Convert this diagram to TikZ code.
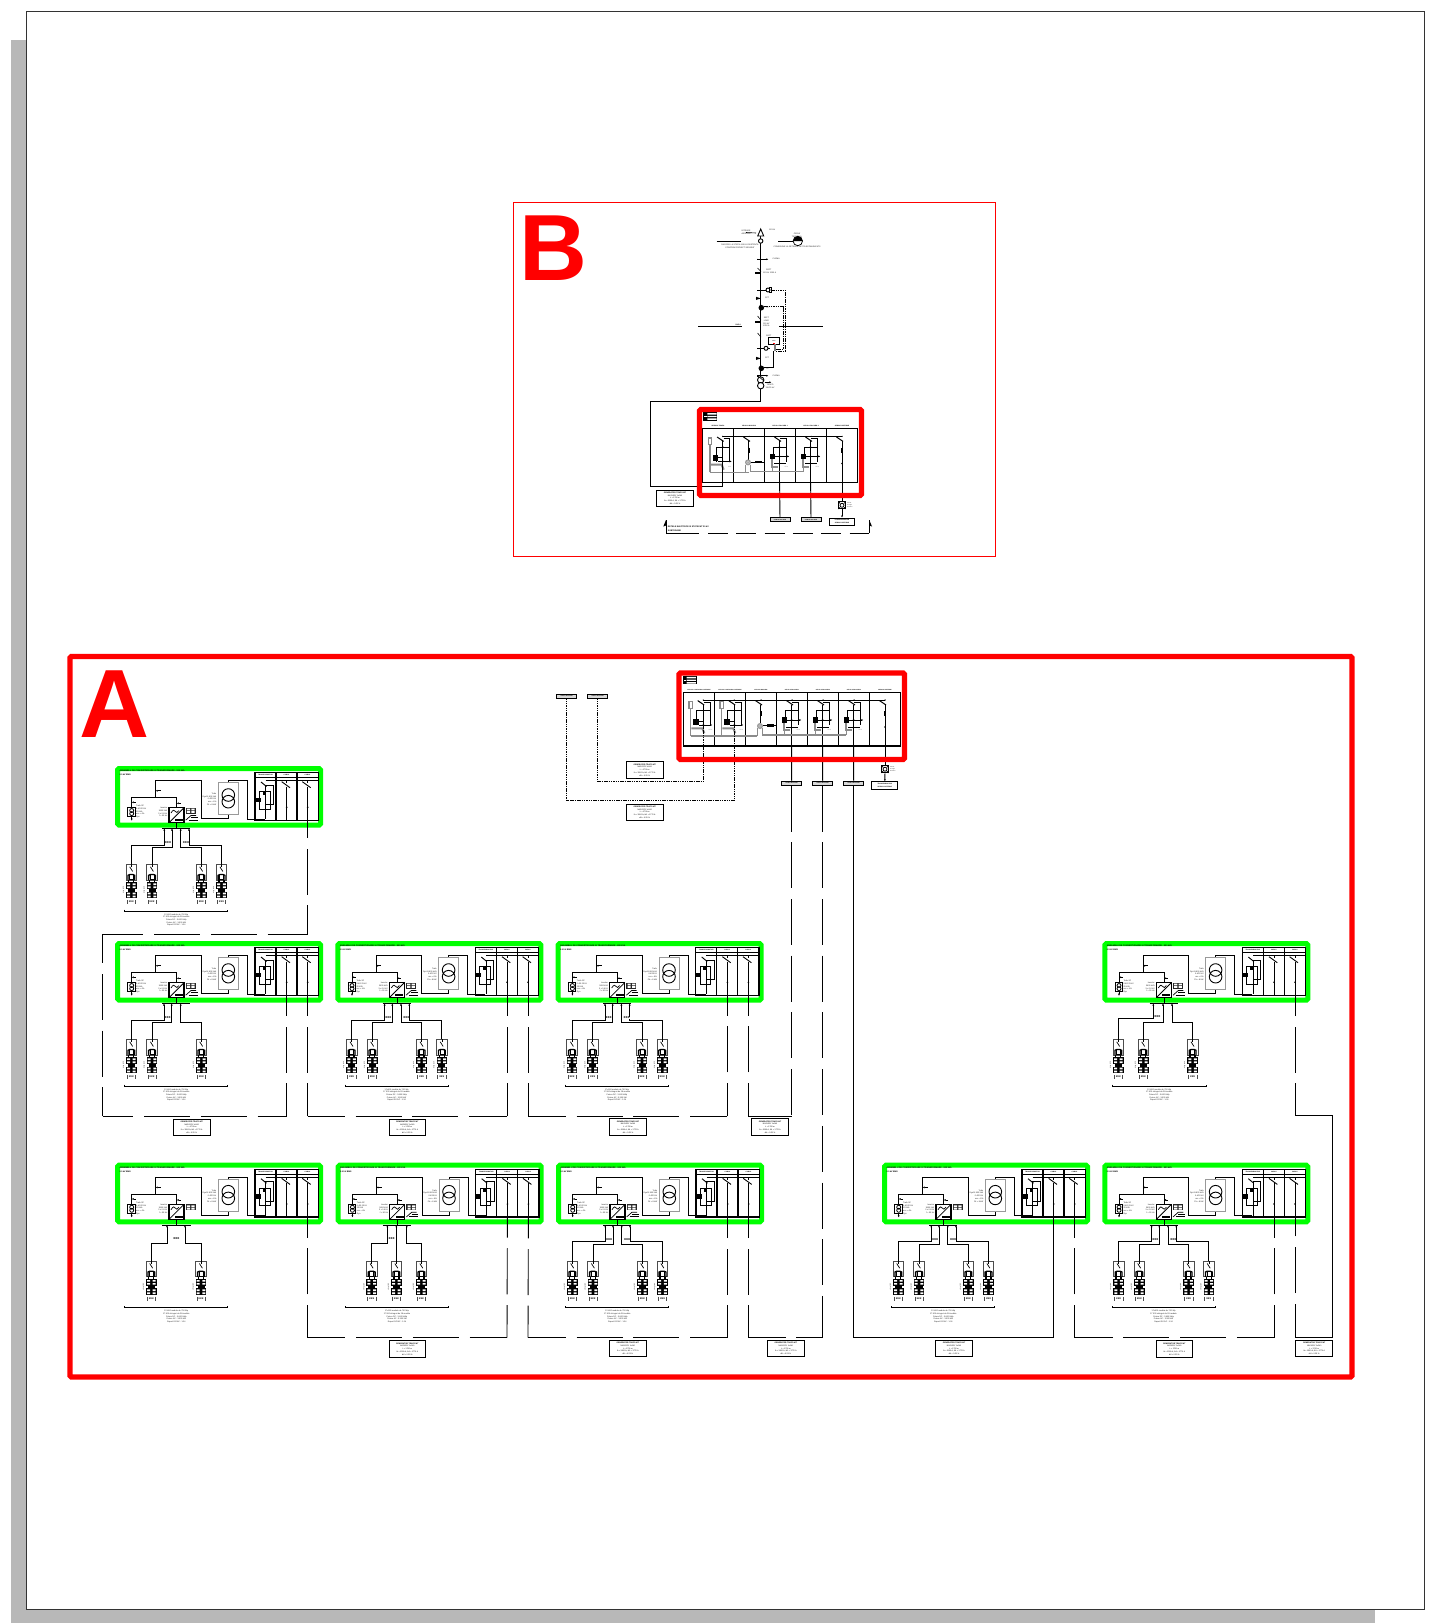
\documentclass[tikz,border=0pt]{standalone}
\usepackage{fontspec}
\setmainfont{Liberation Sans}
\usetikzlibrary{arrows.meta}
\definecolor{gr}{RGB}{0,255,0}
\definecolor{rd}{RGB}{255,0,0}
\definecolor{shd}{RGB}{184,184,184}
\newcounter{tc}
\tikzset{
 wire/.style={line width=.9pt,black},
 thinw/.style={line width=.6pt,black},
 heavy/.style={line width=1.3pt,black},
 graywire/.style={line width=1.1pt,black!45},
 dense/.style={line width=.9pt,black,dash pattern=on 1.5pt off .8pt},
 greenbox/.style={draw=gr,line width=5pt,rounded corners=1.5pt},
 redbox/.style={draw=rd,line width=5.4pt,rounded corners=1.5pt},
 tx/.style={font=\fontsize{2}{2.7}\selectfont,inner sep=0pt,align=center,text=black!85},
 tb/.style={font=\fontsize{2.1}{2.7}\selectfont\bfseries,inner sep=0pt,align=left,text=black},
 lblbox/.style={draw=black,line width=.9pt,fill=white,inner sep=0pt,minimum width=36.6pt,minimum height=16.4pt,align=center,font=\fontsize{1.9}{2.8}\selectfont},
 smbox/.style={draw=black,line width=.8pt,fill=black!15,inner sep=0pt,minimum width=20pt,minimum height=3.8pt,font=\fontsize{1.5}{1.8}\selectfont\bfseries},
 tbox/.style={draw=black,line width=.9pt,fill=white,inner sep=0pt,minimum width=26pt,minimum height=7.4pt,align=center,font=\fontsize{1.6}{2.2}\selectfont\bfseries},
 tip/.style={-{Latex[length=2pt,width=2pt]}},
 rtip/.style={{Latex[length=2pt,width=2pt]}-},
}
\newcommand\tn[4][]{\stepcounter{tc}\node[tx,#1] (t\arabic{tc}) at (#2,#3) {#4};}
\newcommand\tnb[4][]{\stepcounter{tc}\node[tb,#1] (t\arabic{tc}) at (#2,#3) {#4};}
% dashed segment: first dash has length #1 counted from (#2)
\newcommand\dseg[3]{\pgfmathsetmacro\dsph{46-#1}\draw[wire,dash pattern=on 46pt off 10.7pt,dash phase=\dsph pt] (#2) -- (#3);}
\newcommand\boxtext{\textbf{GENERATOR TRAFO MT}\\NA2XS2Y 1x240\\L = 1700 m\\Ik = 1500 A; Ik1 = 1770 A\\dU = 0.25 \%}
\newcommand\lbox[3]{\node[lblbox] (#1) at (#2,#3) {\boxtext};}
% one string of PV modules. name, drop x, bend y, string x
\newcommand\strg[4]{%
 \coordinate (#1a) at (#2,62.5);\coordinate (#1b) at (#2,#3);\coordinate (#1c) at (#4,#3);\coordinate (#1d) at (#4,98.3);
 \draw[wire,rtip] (#1a) -- (#1b) -- (#1c) -- (#1d);
 \begin{scope}[shift={(#4,98.3)}]
  \draw[line width=.7pt,black!70] (-5.3,0) rectangle (5.3,15.7);
  \draw[line width=.7pt] (-1.6,2.5) -- (1.4,7.2);
  \draw[line width=.6pt] (0,0) -- (0,2.5);
  \draw[line width=1.3pt] (-3.4,15.9) -- (-3.4,11) -- (-1.5,10.2) -- (1.5,10.2) -- (3.4,11) -- (3.4,15.9);
  \draw[line width=.6pt] (-2,10.2) rectangle (2,15);
  \draw[line width=1.3pt] (-2.5,15.7) -- (-2.5,18) (2.5,15.7) -- (2.5,18);
  \fill[black] (-3.5,24.7) rectangle (3.5,27.3);
  \foreach \yy in {18,27.3}{
   \fill[black] (-5.3,\yy) rectangle (5.3,\yy+6.7);
   \fill[white] (-4.3,\yy+1) rectangle (-1.3,\yy+2.7) (1.3,\yy+1) rectangle (4.3,\yy+2.7)
                (-4.3,\yy+4) rectangle (-1.3,\yy+5.7) (1.3,\yy+4) rectangle (4.3,\yy+5.7);
  }
  \draw[line width=.5pt,black!70] (-4.2,35.5) -- (-4.2,39.5) (4.2,35.5) -- (4.2,39.5);
  \tnb[anchor=center,font=\fontsize{3}{3}\selectfont\bfseries]{0}{37.8}{xxx}
  \tn[rotate=90,font=\fontsize{1.5}{1.8}\selectfont]{-7.8}{26}{string 1x28}
 \end{scope}}
\newcommand\dcl[2]{\tnb[anchor=center,font=\fontsize{3.6}{3.6}\selectfont\bfseries,fill=white]{#1}{#2}{xxx}}
\newcommand\dcbus[2]{\draw[line width=.9pt] (#1,62.5) -- (#2,62.5);}
\newcommand\bracket[3]{%
 \draw[line width=.7pt] (#1,143.6) -- (#1,145) -- (#2,145) -- (#2,143.6);
 \tn{#3}{154}{17x500 module de 700 Wp\\17 500 stringuri de 28 module\\Putere DC : 3.600 kWp\\Putere AC : 3.500 kW\\Raport DC/AC : 1.24}}
% inverter/transformer block. name, x, y, lower display(0/1), strings
\newcommand\invblock[5]{%
\begin{scope}[shift={(#2,#3)}]
 \draw[greenbox] (2.5,2.5) rectangle (205.5,59.2);
 \tnb[anchor=west]{4.3}{5}{ANSAMBLU DE CONVERTIZOARE SI TRANSFORMARE - 800 kVA}
 \tnb[anchor=west]{4.3}{8.7}{0.5 kV BMS}
 % LV wiring
 \draw[wire] (113.3,16.3) -- (113.3,14.7) -- (132.3,14.7) -- (132.3,53) -- (150,53);
 \draw[wire] (113.3,48.3) -- (113.3,52.3) -- (86.3,52.3) -- (86.3,14.7) -- (40.7,14.7) -- (40.7,31.3);
 \draw[wire] (16.7,41.3) -- (16.7,31.3) -- (61.7,31.3) -- (61.7,41.7);
 \draw[wire,tip] (16.7,50.7) -- (16.7,54.7);
 \draw[thinw,rtip] (40.7,24.7) -- (46,24.7);
 \draw[thinw,rtip] (16.7,36.3) -- (21,36.3);
 \draw[thinw,rtip] (61.7,37.3) -- (66,37.3);
 % transformer
 \draw[line width=1pt,black!40,fill=white] (103.3,16.3) rectangle (123.3,48.3);
 \draw[wire] (113.3,29) circle (6.3) (113.3,35.7) circle (6.3);
 \tn[align=right,anchor=east]{101.5}{33.2}{Trafo\\Dyn11 800 kVA\\0.4/20 kV\\ucc = 6\%\\Pk = 8 kW}
 % aux unit
 \draw[line width=.7pt,fill=white] (12.7,41.3) rectangle (20,50.7);
 \draw[line width=.8pt] (16.7,44.5) circle (2) (16.7,47.6) circle (2);
 \tn[align=left,anchor=west]{21}{45.5}{Trafo SP\\0.4/0.23 kV\\25 kVA\\ucc = 4\%\\Dyn}
 % inverter
 \tn[align=right,anchor=east]{52.5}{46}{Invertor\\3600 kVA\\3 x 0.6 kV\\f = 50 Hz}
 \draw[line width=1.2pt,fill=white] (54,41.7) rectangle (69,56.7);
 \draw[line width=.8pt] (54,56.7) -- (69,41.7);
 \draw[line width=.7pt] (56,47) .. controls (58,43.5) and (59.5,43.5) .. (60.5,45.5) .. controls (61.2,47) and (62.5,47) .. (64,44.5);
 \fill (60,53) rectangle (68,55.3);
 \draw[wire] (61.7,56.7) -- (61.7,62.5);
 % displays
 \fill[black!85] (70.7,41.7) rectangle (80.7,47.7);
 \fill[white] (71.8,42.6) rectangle (75,44.3) (76.4,42.6) rectangle (79.6,44.3) (71.8,45.2) rectangle (75,46.9) (76.4,45.2) rectangle (79.6,46.9);
 \ifnum#4=1
  \draw[line width=.7pt] (70.7,54.2) -- (76,49.5) -- (81,49.5);
  \draw[line width=.9pt] (73.5,54.2) -- (82.7,54.2) (76,51.7) -- (82.7,51.7);
 \fi
 % panel
 \draw[heavy] (140,6.7) rectangle (203.3,54.3);
 \draw[heavy] (161,6.7) -- (161,54.3) (182,6.7) -- (182,54.3);
 \draw[wire] (140,11.3) -- (203.3,11.3);
 \tnb[anchor=center,font=\fontsize{1.6}{2}\selectfont\bfseries]{150.5}{9.1}{TRANSFORMATOR}
 \tnb[anchor=center,font=\fontsize{1.6}{2}\selectfont\bfseries]{171.5}{9.1}{CABLU}
 \tnb[anchor=center,font=\fontsize{1.6}{2}\selectfont\bfseries]{192.5}{9.1}{CABLU}
 \draw[thinw] (150.7,14.7) -- (203.3,14.7);
 \draw[wire] (146,16) -- (151.5,20.5);
 \draw[thinw] (150.7,20.7) -- (150.7,53);
 \draw[thinw] (144.3,25.7) rectangle (155,43);
 \draw[thinw] (150.7,19) rectangle (158.3,38.3);
 \fill (140.7,31.7) rectangle (145.7,36.3);
 \fill (147.5,25.7) rectangle (150.7,29);
 \draw[wire] (166.7,15.7) -- (175,21.7);
 \draw[wire] (187.3,15.7) -- (195.7,21.7);
 \coordinate (#1c2) at (171.7,54.3);
 \coordinate (#1c3) at (192.7,54.3);
 \draw[thinw] (171.7,14.7) -- (171.7,17) (171.7,20.5) -- (#1c2);
 \draw[thinw] (192.7,14.7) -- (192.7,17) (192.7,20.5) -- (#1c3);
 \fill (171.7,41.3) circle (.9) (192.7,41.3) circle (.9);
 #5
\end{scope}}
% switchgear panel columns: name, column left x, panel top y
\newcommand\swtch[1]{\draw[line width=1pt] (#1-5.6,8.3) -- (#1+.9,12.7);\fill (#1,7.7) circle (.7);}
\newcommand\colA[3]{%
\begin{scope}[shift={(#2,#3)}]
 \draw[graywire,fill=white] (5.7,9.3) rectangle (9,16);
 \draw[graywire] (7.3,16) -- (7.3,43.7);
 \draw[line width=2pt,black!45] (8,36) -- (19,36) -- (21,41);
 \swtch{20}
 \draw[thinw] (13.3,33) -- (13.3,18.3) -- (26.7,18.3) -- (26.7,33);
 \draw[thinw] (21,10) -- (26.7,10) -- (26.7,18.3);
 \draw[wire,tip] (15.7,32.7) -- (29,32.7);
 \fill (10,26.7) rectangle (15.7,32.3);
 \draw[line width=.5pt] (15.7,29) -- (20,29);
 \fill (20,18.3) circle (.9) (20,32.7) circle (1);
 \coordinate (#1) at (20,36);
 \draw[thinw] (20,12.7) -- (20,36);
 \tn[text=black!40]{27}{38}{mm}
\end{scope}}
\newcommand\colM[3]{%
\begin{scope}[shift={(#2,#3)}]
 \swtch{15.8}
 \draw[thinw] (15.3,12.7) -- (15.3,31);
 \draw[line width=2pt] (15.3,19) -- (15.3,24);
 \fill[black!40] (14.7,33.7) circle (3);
 \draw[line width=.8pt,black!25] (14.7,33.7) circle (1.4);
 \draw[line width=2.5pt] (22,33.3) -- (29,33.3);
 \draw[thinw] (18,33.3) -- (31,33.3);
 \draw[graywire] (12,36) -- (12,43.7) (17.3,36) -- (17.3,43.7);
 \coordinate (#1) at (15.3,33);
\end{scope}}
\newcommand\colF[3]{%
\begin{scope}[shift={(#2,#3)}]
 \swtch{15.8}
 \coordinate (#1) at (15.3,53.7);
 \draw[thinw] (15.3,12.7) -- (#1);
 \draw[thinw] (8.7,27) -- (8.7,18.3) -- (22,18.3) -- (22,33);
 \draw[thinw] (16,10) -- (22,10) -- (22,18.3);
 \draw[wire,tip] (11,27.7) -- (25,27.7);
 \fill (5.7,25) rectangle (11,30.3);
 \fill (15.3,18.3) circle (.9) (15.3,27.7) circle (1);
 \draw[thinw] (10,34.5) -- (22,34.5);
 \draw[line width=2pt,black!45] (8,30.5) -- (8,38) -- (14,38);
 \draw[graywire] (8,38) -- (8,43);
 \tn[text=black!40]{22}{38}{mm}
\end{scope}}
\newcommand\colT[3]{%
\begin{scope}[shift={(#2,#3)}]
 \swtch{15.8}
 \coordinate (#1) at (15.7,53.7);
 \draw[thinw] (15.7,12.7) -- (#1);
 \draw[line width=2pt] (15.7,19) -- (15.7,24);
 \fill (15.7,34.7) circle (.9);
\end{scope}}
\newcommand\legendicon[2]{%
 \fill (#1,#2) rectangle (#1+14,#2+8.4);
 \fill[white] (#1+4,#2+.9) rectangle (#1+13.2,#2+2.3) (#1+4,#2+3.5) rectangle (#1+13.2,#2+4.9) (#1+4,#2+6) rectangle (#1+13.2,#2+7.5);
 \fill[white] (#1+.8,#2+3.5) rectangle (#1+3.2,#2+4.9);}
\newcommand\meterbox[4]{% name, x, y, text
 \node[draw=black,line width=.9pt,fill=white,inner sep=0pt,minimum size=7.2pt] (#1) at (#2,#3) {};
 \draw[line width=.8pt] (#2,#3) circle (2);
 \draw[line width=.8pt] (#2-3.6,#3-3.6) -- (#2-2,#3-2) (#2+3.6,#3-3.6) -- (#2+2,#3-2) (#2-3.6,#3+3.6) -- (#2-2,#3+2) (#2+3.6,#3+3.6) -- (#2+2,#3+2);
 \tn[align=left,anchor=west,font=\fontsize{1.4}{2}\selectfont]{#2+5}{#3}{#4}}
% four strings, common layout
\newcommand\fourstr[1]{%
 \dcbus{47.3}{75.3}
 \strg{#1s1}{49.3}{79}{16.3}\strg{#1s2}{57}{81.3}{37}\strg{#1s3}{65.7}{81.3}{86.3}\strg{#1s4}{74}{79}{106.5}
 \dcl{53}{76.7}\dcl{71}{76.7}
 \bracket{9.7}{112.7}{61.3}}
\begin{document}
\begin{tikzpicture}[x=1pt,y=-1pt]
\useasboundingbox (0,0) rectangle (1429,1623);
% sheet
\fill[white] (0,0) rectangle (1429,1623);
\fill[shd] (10.7,40) rectangle (1375,1623);
\draw[black!80,fill=white,line width=1pt] (26,11) rectangle (1424.5,1609);

% ================= B =================
\draw[rd,line width=1pt] (513.5,202) rectangle (995.5,556);
\node[anchor=base west,inner sep=0pt,text=rd,font=\fontsize{94}{94}\selectfont\bfseries] (labB) at (519.5,280.5) {B};

% high-voltage bay
\coordinate (hvtop) at (760.7,233);
\coordinate (hvbot) at (760.7,401.7);
\coordinate (hvl) at (650,401.7);
\coordinate (hvd) at (650,486.7);
\draw[heavy] (hvtop) -- (hvbot);
\draw[wire,fill=white] (757.7,236) -- (760.7,229) -- (763.7,236) -- cycle;
\draw[wire,fill=white] (760.7,241) circle (2.2);
\tn[anchor=west]{769}{229.5}{110 kV}
\tn{746}{232}{INTRARE\\AERIANA}
\draw[thinw] (746,232.5) -- (756,233);
\draw[wire] (716.7,241) -- (741,241);
\draw[wire] (778.3,241) -- (793.3,241);
\tn{740}{246.5}{RACORD LA STATIA 110 kV EXISTENTA\\CONFORM PROIECT SEPARAT}
\tn{797}{235}{OPGW\\TERMINAL}
\draw[line width=.7pt,fill=white] (797.8,241) circle (4.7);
\fill (793.1,241) arc (180:360:4.7) -- cycle;
\tn{797}{247}{CONEXIUNE LA RETEAUA DE TELECOMUNICATII}
\draw[wire,tip] (757.5,259.3) -- (768.3,259.3);
\draw[wire] (757.5,258.5) -- (757.5,260);
\tn[anchor=west]{772.5}{259.3}{CLEMA}
\draw[thinw] (757.5,268) -- (761,271.5);
\fill (755,271.5) rectangle (760.7,273.8);
\tn[anchor=west]{766}{269.5}{SEPT}
\tn[anchor=west]{763}{273}{110 kV 1250 A}
\draw[wire] (757,290) -- (766,290);
\draw[wire,fill=white] (768,290) circle (2);
\draw[line width=.8pt] (769,287.5) rectangle (771.5,292.5);
\coordinate (ct1) at (771,290);\coordinate (ct1a) at (785,290);\coordinate (ct1b) at (785,351);\coordinate (ct1c) at (775,351);
\draw[dense] (ct1) -- (ct1a) -- (ct1b) -- (ct1c);
\fill (756,296.8) -- (760.7,298.3) -- (756,300) -- cycle;
\draw[line width=1.2pt] (755.5,298.3) -- (760.7,298.3);
\tn[anchor=west]{765}{298.3}{SPT}
\fill (761.3,307.7) circle (2.8);
\coordinate (ct2) at (764,306.7);\coordinate (ct2a) at (783.3,306.7);\coordinate (ct2b) at (783.3,349.3);\coordinate (ct2c) at (776,349.3);
\draw[dense] (ct2) -- (ct2a) -- (ct2b) -- (ct2c);
\tn[anchor=west]{766}{308}{TC}
\draw[thinw] (757.5,316) -- (761,320);
\fill (755,321) rectangle (760.7,323);
\tn[anchor=west]{763}{322}{SEPT\\LINIE\\110 kV\\1250 A}
\draw[wire] (698.3,326.7) -- (741.7,326.7);
\draw[wire] (779.3,326.7) -- (822.7,326.7);
\tn[anchor=east,font=\fontsize{1.8}{2.2}\selectfont\bfseries]{741}{325.3}{BARA}
\draw[thinw] (757.5,333) -- (761,337);
\tn[anchor=west]{766}{336}{SEPT}
\draw[wire] (757,348.3) -- (764,348.3);
\draw[wire,fill=white] (766,348.3) circle (2);
\draw[wire] (768,348.3) -- (770,348.3);
\node[draw=black,line width=.9pt,fill=white,inner sep=0pt,minimum width=10.6pt,minimum height=6.7pt,font=\fontsize{1.4}{1.6}\selectfont] (relay) at (774,340.7) {RMS};
\fill[rd] (772.5,343) rectangle (775,344);
\draw[line width=1.4pt,black!50] (775,344) -- (775,351);
\fill (756,356.8) -- (760.7,358.3) -- (756,360) -- cycle;
\draw[line width=1.2pt] (755.5,358.3) -- (760.7,358.3);
\tn[anchor=west]{765}{358.3}{SPT}
\fill (761.3,368.3) circle (2.8);
\coordinate (ct3) at (764,367.3);\coordinate (ct3a) at (773.3,367.3);\coordinate (ct3b) at (773.3,350.7);
\draw[wire,line width=1pt] (ct3) -- (ct3a) -- (ct3b);
\tn[anchor=west]{766}{369}{TC}
\draw[wire,tip] (757.5,375.7) -- (768.3,375.7);
\draw[wire] (757.5,375) -- (757.5,376.5);
\tn[anchor=west]{772.5}{376}{CLEMA}
\draw[wire,fill=white] (760.7,380) circle (3.2);
\draw[wire,fill=white] (760.7,385.7) circle (3.2);
\draw[thinw] (758,376) -- (764,381);
\draw[wire,tip] (764.5,382.3) -- (771.3,382.3);
\tn{770}{386}{TRAFO\\110/20 kV}
% B panel
\legendicon{703.3}{412.3}
\draw[heavy] (702.3,428.7) rectangle (857.7,482.3);
\draw[heavy] (733.3,428.7) -- (733.3,482.3) (764.3,428.7) -- (764.3,482.3) (795.3,428.7) -- (795.3,482.3) (826.3,428.7) -- (826.3,482.3);
\draw[thinw] (722.7,436.4) -- (842,436.4);
\colA{bc1}{702.7}{428.7}
\colM{bc2}{733.3}{428.7}
\colF{bc3}{764.3}{428.7}
\colF{bc4}{795.3}{428.7}
\colT{bc5}{826.3}{428.7}
\draw[graywire] (709.6,472.4) -- (749,472.4);
\draw[graywire] (750.6,471.5) -- (804,471.5);
\tnb[anchor=center,font=\fontsize{1.6}{2}\selectfont\bfseries]{718}{426.2}{SERVICII TRAFO}
\tnb[anchor=center,font=\fontsize{1.6}{2}\selectfont\bfseries]{749}{426.2}{CELULA MASURA}
\tnb[anchor=center,font=\fontsize{1.6}{2}\selectfont\bfseries]{780}{426.2}{CELULA RACORD 1}
\tnb[anchor=center,font=\fontsize{1.6}{2}\selectfont\bfseries]{811}{426.2}{CELULA RACORD 2}
\tnb[anchor=center,font=\fontsize{1.6}{2}\selectfont\bfseries]{842}{426.2}{SERVICII INTERNE}
\node[smbox] (bf3) at (780,519.7) {CABLU RACORD};
\node[smbox] (bf4) at (811,519.7) {CABLU RACORD};
\node[tbox,minimum width=25.7pt,minimum height=7pt] (bf5) at (842,521.5) {TRANSFORMATOR\\SERVICII INTERNE};
\meterbox{bm5}{842}{505.3}{Contor\\energie\\electrica}
\draw[wire] (bc3) -- (bf3);
\draw[wire] (bc4) -- (bf4);
\draw[wire] (bc5) -- (bm5);
\draw[wire,tip] (bm5) -- (bf5);
\lbox{blb}{675}{498.3}
\draw[wire] (hvbot) -- (hvl) -- (hvd) -- (hvd-|bc1) -- (bc1);
\coordinate (bl1) at (666,533.3);\coordinate (bl2) at (869.3,533.3);\coordinate (bl0) at (666,520);\coordinate (bl3) at (869.3,520);
\draw[wire,dash pattern=on 33.3pt off 8.7pt on 20pt off 8.3pt on 20pt off 8.3pt on 20pt off 8.3pt on 20pt off 8.3pt on 20pt off 8.3pt on 20pt off 8.3pt] (bl1) -- (bl2);
\draw[wire] (bl0) -- (bl1);
\draw[wire] (bl3) -- (bl2);
\fill (666,520) -- (663.3,526.5) -- (666,525.5) -- cycle;
\fill (869.3,520) -- (872,526.5) -- (869.3,525.5) -- cycle;
\tnb[anchor=west]{667.7}{527}{RETELE ELECTRICE SI STATIE MT 20 kV}
\tnb[anchor=west]{667.7}{531}{SUBTERANE}
\draw[redbox] (699.5,409.5) rectangle (861.5,495.5);

% ================= A =================
\draw[rd,line width=5.4pt,rounded corners=1.5pt] (70,656.5) rectangle (1352,1377);
\node[anchor=base west,inner sep=0pt,text=rd,font=\fontsize{97}{97}\selectfont\bfseries] (labA) at (79.5,737) {A};

% top panel
\legendicon{682.7}{676}
\draw[heavy] (683.3,692.3) rectangle (900.7,746);
\draw[heavy] (714.3,692.3) -- (714.3,746) (745.3,692.3) -- (745.3,746) (776.3,692.3) -- (776.3,746) (807.3,692.3) -- (807.3,746) (838.3,692.3) -- (838.3,746) (869.3,692.3) -- (869.3,746);
\draw[thinw] (703.3,700) -- (885,700);
\colA{ac1}{683.3}{692.3}
\colA{ac2}{714.3}{692.3}
\colM{ac3}{745.3}{692.3}
\colF{ac4}{776.3}{692.3}
\colF{ac5}{807.3}{692.3}
\colF{ac6}{838.3}{692.3}
\colT{ac7}{869.3}{692.3}
\draw[graywire] (690.6,736) -- (757,736);
\draw[graywire] (762.6,735) -- (846,735);
\tnb[anchor=center,font=\fontsize{1.5}{2}\selectfont\bfseries]{699}{689.9}{CELULA LINIE CABLU INTRARE}
\tnb[anchor=center,font=\fontsize{1.5}{2}\selectfont\bfseries]{730}{689.9}{CELULA LINIE CABLU INTRARE}
\tnb[anchor=center,font=\fontsize{1.5}{2}\selectfont\bfseries]{761}{689.9}{CELULA MASURA}
\tnb[anchor=center,font=\fontsize{1.5}{2}\selectfont\bfseries]{792}{689.9}{CELULA RACORD 1}
\tnb[anchor=center,font=\fontsize{1.5}{2}\selectfont\bfseries]{823}{689.9}{CELULA RACORD 2}
\tnb[anchor=center,font=\fontsize{1.5}{2}\selectfont\bfseries]{854}{689.9}{CELULA RACORD 3}
\tnb[anchor=center,font=\fontsize{1.5}{2}\selectfont\bfseries]{885}{689.9}{SERVICII INTERNE}
% feeder and incoming boxes
\node[smbox] (inc1) at (566.7,696) {CABLU RACORD};
\node[smbox] (inc2) at (597.7,696) {CABLU RACORD};
\node[smbox] (f1) at (791.7,783.3) {CABLU RACORD};
\node[smbox] (f2) at (822.7,783.3) {CABLU RACORD};
\node[smbox] (f3) at (853.7,783.3) {CABLU RACORD};
\node[tbox] (f4) at (884.8,785.5) {TRANSFORMATOR\\SERVICII INTERNE};
\meterbox{am7}{885}{769.2}{Contor\\energie\\electrica}
\draw[wire] (ac4) -- (f1);
\draw[wire] (ac5) -- (f2);
\draw[wire] (ac6) -- (f3);
\draw[wire] (ac7) -- (am7);
\draw[wire,tip] (am7) -- (f4);
\coordinate (d1a) at (597.7,781.7);\coordinate (d1b) at (703.3,781.7);
\coordinate (d2a) at (566.7,800.7);\coordinate (d2b) at (734.3,800.7);
\draw[dense] (inc2) -- (d1a) -- (d1b) -- (ac1);
\draw[dense] (inc1) -- (d2a) -- (d2b) -- (ac2);
\lbox{la1}{644.7}{770}
\lbox{la2}{644.7}{812.3}
\draw[redbox] (679,673) rectangle (904.5,759.5);

% blocks
\invblock{r0}{115}{766}{1}{\fourstr{r0}}
\invblock{r1a}{115}{941}{1}{%
 \dcbus{47.3}{75.3}
 \strg{r1as1}{49}{79}{16.3}\strg{r1as2}{56.7}{81.3}{37}\strg{r1as3}{65.7}{81.3}{86.3}
 \dcl{52.7}{76.7}
 \bracket{9.7}{112.7}{61.3}}
\invblock{r1b}{335.3}{941}{1}{\fourstr{r1b}}
\invblock{r1c}{555.7}{941}{1}{\fourstr{r1c}}
\invblock{r1e}{1102.3}{941}{1}{%
 \dcbus{47.3}{75.3}
 \strg{r1es1}{51}{77.7}{16}\strg{r1es2}{60.7}{81}{41}\strg{r1es3}{69.7}{81}{90.3}
 \dcl{55}{76}
 \bracket{9.7}{104.5}{57}}
\invblock{r2a}{115}{1162.7}{0}{%
 \dcbus{47}{75.7}
 \strg{r2as1}{52}{81}{36.3}\strg{r2as2}{70}{81}{86}
 \dcl{61.3}{76}
 \bracket{9.7}{112.7}{61.3}}
\invblock{r2b}{335.7}{1162.7}{1}{%
 \dcbus{47}{75.7}
 \strg{r2bs1}{51.7}{81}{36}\strg{r2bs2}{60.7}{81}{60.7}\strg{r2bs3}{71}{81}{85.7}
 \dcl{56}{76}
 \bracket{9.7}{112.7}{61.3}}
\invblock{r2c}{556}{1162.7}{1}{\fourstr{r2c}}
\invblock{r2d}{882}{1162.7}{0}{\fourstr{r2d}}
\invblock{r2e}{1102.3}{1162.7}{1}{\fourstr{r2e}}

% connection corners
\coordinate (k0) at (307.7,934.3);\coordinate (k1) at (102.7,934.3);\coordinate (k2) at (102.7,1116);\coordinate (k3) at (286.7,1116);
\coordinate (k4) at (307.7,1116);\coordinate (k5) at (507,1116);
\coordinate (k6) at (528,1116);\coordinate (k7) at (727.4,1116);
\coordinate (k8) at (748.4,1116);\coordinate (k9) at (791.7,1116);
\coordinate (m0) at (307.7,1337.7);\coordinate (m1) at (507,1337.7);
\coordinate (m2) at (528,1337.7);\coordinate (m3) at (727.7,1337.7);
\coordinate (m4) at (748.7,1337.7);\coordinate (m5) at (822.7,1337.7);
\coordinate (m6) at (853.7,1337.7);\coordinate (m7) at (1053.7,1337.7);
\coordinate (m8) at (1074.7,1337.7);\coordinate (m9) at (1274,1337.7);
\coordinate (m10) at (1295,1337.7);\coordinate (m11) at (1332.7,1337.7);
\coordinate (m12) at (1332.7,1115.7);\coordinate (m13) at (1295,1115.7);
% chain rows
\dseg{29}{k0}{r0c3}
\dseg{40.7}{k1}{k0}
\dseg{29}{k1}{k2}
\dseg{30.7}{k2}{k3}
\dseg{32.7}{k3}{r1ac2}
\dseg{32.7}{k4}{r1ac3}
\dseg{37.3}{k4}{k5}
\dseg{32.7}{k5}{r1bc2}
\dseg{32.7}{k6}{r1bc3}
\dseg{38}{k6}{k7}
\dseg{33}{k7}{r1cc2}
\dseg{33}{k8}{r1cc3}
\draw[wire] (k8) -- (k9);
\dseg{46}{f1}{k9}
\dseg{32.7}{m0}{r2ac3}
\dseg{37.7}{m0}{m1}
\dseg{32.7}{m1}{r2bc2}
\dseg{32}{m2}{r2bc3}
\dseg{37.9}{m2}{m3}
\dseg{32.3}{m3}{r2cc2}
\dseg{32.3}{m4}{r2cc3}
\dseg{37}{m4}{m5}
\dseg{46}{f2}{m5}
\draw[wire] (f3) -- (m6) -- (m7) -- (r2dc2);
\dseg{32.7}{m8}{r2dc3}
\dseg{38}{m8}{m9}
\dseg{32.7}{m9}{r2ec2}
\dseg{34}{m10}{r2ec3}
\draw[wire] (m10) -- (m11) -- (m12) -- (m13);
\dseg{32.3}{m13}{r1ec3}
% labels
\lbox{l1}{191.7}{1127.3}
\lbox{l2}{407.3}{1127.3}
\lbox{l3}{628}{1127}
\lbox{l4}{770}{1127}
\lbox{l5}{407.3}{1349}
\lbox{l6}{627.8}{1348.5}
\lbox{l7}{785.8}{1348.5}
\lbox{l8}{954}{1348.5}
\lbox{l9}{1174.3}{1349}
\lbox{l10}{1314.2}{1348.5}
\end{tikzpicture}
\end{document}
